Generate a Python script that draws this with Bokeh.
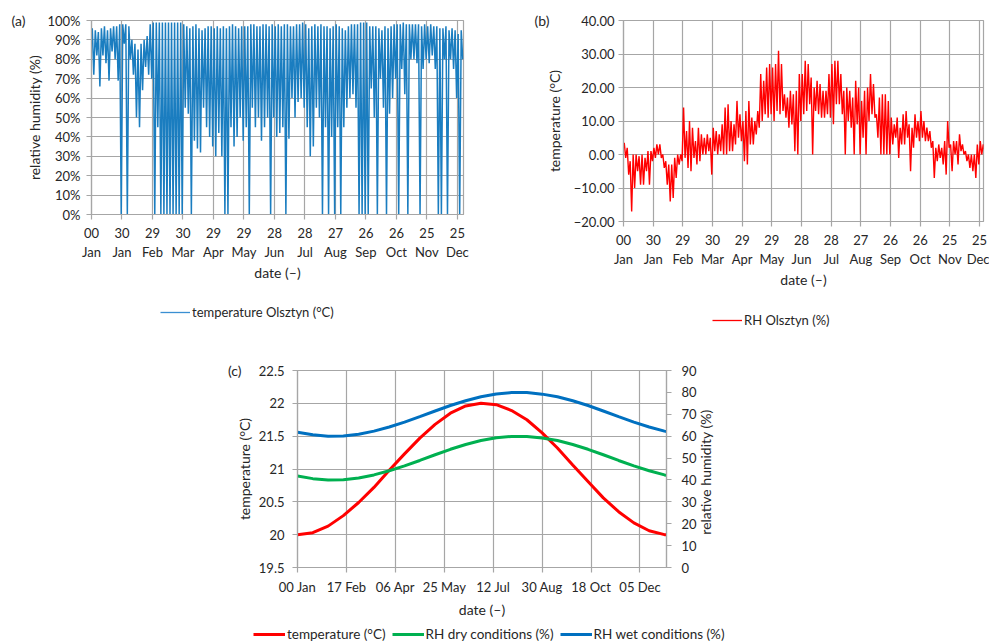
from bokeh.plotting import figure
from bokeh.models import (Range1d, LinearAxis, FixedTicker, Grid, Legend, LegendItem)
from bokeh.layouts import column, row
from bokeh.embed import file_html
from bokeh.resources import INLINE

FONT = "Lato"
TXT = "#262626"
GRID = "#a6a6a6"
BLUE_A = "#1a7dc0"
RED_B = "#ff0000"
RED_C = "#ff0000"
GREEN_C = "#00b050"
BLUE_C = "#0070c0"
NAN = float("nan")

# ---------------- shared date axis of panels (a) and (b) ----------------
tick_days = [0, 30, 60, 90, 120, 150, 180, 210, 240, 270, 300, 330, 360]
tick_day_labels = ["00", "30", "29", "30", "29", "29", "28", "28", "27", "26", "26", "25", "25"]
tick_month_labels = ["Jan", "Jan", "Feb", "Mar", "Apr", "May", "Jun", "Jul", "Aug", "Sep", "Oct", "Nov", "Dec"]

# ---------------- panel (a): relative humidity, 3-day bins (high / low) ----------------
rh_bin_days = list(range(0, 366, 3))
rh_high = [96, 95, 94, 96, 97, 95, 96, 97, 97, 98, 98, 98, 97, 90, 88, 85, 88, 90, 92, 98,
           99, 99, 99, 99, 99, 99, 99, 99, 99, 99, 98, 97, 96, 97, 98, 96, 95, 96, 97, 97,
           96, 97, 96, 97, 96, 97, 98, 97, 96, 97, 97, 97, 98, 98, 97, 97, 98, 98, 97, 98,
           97, 98, 97, 98, 98, 97, 97, 98, 98, 99, 98, 96, 97, 98, 97, 98, 97, 97, 96, 97,
           98, 97, 96, 95, 97, 98, 98, 98, 99, 99, 99, 97, 97, 97, 96, 95, 97, 96, 97, 98,
           98, 98, 99, 98, 98, 98, 98, 98, 97, 98, 97, 98, 97, 97, 96, 96, 97, 95, 96, 95,
           93, 95]
rh_low = [72, 82, 66, 82, 78, 69, 84, 80, 69, 0, 88, 0, 80, 72, 50, 45, 64, 76, 72, 70,
          0, 45, 0, 0, 0, 0, 0, 0, 0, 0, 55, 52, 0, 38, 34, 32, 55, 45, 40, 35,
          30, 42, 30, 0, 0, 45, 35, 40, 50, 38, 45, 0, 55, 45, 50, 38, 45, 50, 0, 50,
          40, 42, 45, 0, 39, 60, 50, 58, 60, 55, 45, 30, 35, 55, 50, 0, 45, 0, 40, 0,
          45, 0, 45, 55, 60, 62, 55, 0, 0, 0, 0, 65, 50, 0, 70, 55, 0, 52, 60, 70,
          0, 75, 62, 0, 80, 80, 78, 0, 75, 80, 78, 82, 75, 0, 0, 80, 0, 80, 75, 60,
          0, 80]
rh_ticks = [0, 10, 20, 30, 40, 50, 60, 70, 80, 90, 100]
rh_tick_labels = ["0%", "10%", "20%", "30%", "40%", "50%", "60%", "70%", "80%", "90%", "100%"]

# ---------------- panel (b): temperature, 3-day bins (high / low) ----------------
t_bin_days = list(range(0, 366, 3))
t_high = [3.5, 2, -2, 0, 0, -0.5, 0, -1, 1, 1, 2, 3, 3, 0, -2, -3, -3, -1, 0, 0,
          14, 7, 10, 8, 4, 8, 6, 5, 6, 5, 8, 7, 6, 9, 14, 15, 10, 9, 16, 12,
          10, 13, 16, 11, 10, 13, 24, 22, 26, 27, 26, 27, 31, 27, 18, 17, 19, 18, 19, 24,
          24, 28, 27, 23, 20, 22, 21, 19, 19, 24, 27, 28, 28, 24, 19, 20, 19, 17, 22, 20,
          16, 19, 20, 24, 21, 12, 17, 18, 18, 16, 11, 9, 11, 8, 12, 13, 9, 8, 12, 10,
          13, 10, 8, 7, 4, 2, 3, 2, 4, 10, 3, 4, 4, 6, 3, 1, 0, 0, 0, 3,
          4, 3]
t_low = [-1, -6, -17, -10, -5, -9, -9, -5, -9, -2, -1, 0, -1, -4, -9, -14, -13, -7, -3, -2,
         -1, -4, -5, -1, -3, -2, 0, 0, 1, -6, 1, 0, 1, 0, 0, 1, 1, 3, 5, 4,
         -2, -3, 3, 3, 6, 8, 10, 12, 11, 12, 10, 13, 12, 13, 11, 8, 9, 1, 0, 10,
         12, 13, 15, 0, 13, 12, 11, 11, 12, 11, 9, 15, 15, 12, 0, 10, 8, 0, 9, 0,
         5, 0, 10, 12, 11, 5, 0, 0, 0, 0, 3, 5, -1, 3, 3, 5, -5, 2, 5, 4,
         5, 4, 4, 2, -7, -2, -1, -3, -6, 2, -5, 0, -3, 1, 0, -2, -4, -5, -7, -3,
         0, 1]
t_ticks = [-20, -10, 0, 10, 20, 30, 40]
t_tick_labels = ["\u221220.00", "\u221210.00", "0.00", "10.00", "20.00", "30.00", "40.00"]

# ---------------- panel (c): design curves ----------------
c_days = [0, 15, 30, 45, 60, 75, 90, 105, 120, 135, 150, 165, 180, 195, 210, 225, 240,
          255, 270, 285, 300, 315, 330, 345, 360, 362]
c_temp = [20.00, 20.03, 20.13, 20.29, 20.49, 20.72, 20.98, 21.23, 21.47, 21.68, 21.85, 21.96,
          22.00, 21.98, 21.89, 21.75, 21.55, 21.32, 21.06, 20.81, 20.56, 20.35, 20.18, 20.06,
          20.00, 20.00]
c_rh_dry = [41.8, 40.6, 40.0, 40.1, 40.9, 42.3, 44.2, 46.4, 48.9, 51.5, 54.0, 56.2, 58.0,
            59.3, 59.9, 59.9, 59.2, 58.0, 56.2, 54.0, 51.5, 48.9, 46.4, 44.2, 42.3, 42.1]
c_rh_wet = [61.8, 60.6, 60.0, 60.1, 60.9, 62.3, 64.2, 66.4, 68.9, 71.5, 74.0, 76.2, 78.0,
            79.3, 79.9, 79.9, 79.2, 78.0, 76.2, 74.0, 71.5, 68.9, 66.4, 64.2, 62.3, 62.1]
c_date_ticks = [0, 48, 96, 144, 192, 240, 288, 336]
c_date_labels = ["00 Jan", "17 Feb", "06 Apr", "25 May", "12 Jul", "30 Aug", "18 Oct", "05 Dec"]
c_temp_ticks = [19.5, 20.0, 20.5, 21.0, 21.5, 22.0, 22.5]
c_temp_labels = ["19.5", "20", "20.5", "21", "21.5", "22", "22.5"]
c_rh_ticks = [0, 10, 20, 30, 40, 50, 60, 70, 80, 90]
c_rh_labels = ["0", "10", "20", "30", "40", "50", "60", "70", "80", "90"]


def zigzag(days, hi, lo):
    xs, ys = [], []
    for d, h, l in zip(days, hi, lo):
        xs += [d + 0.75, d + 2.25]
        ys += [h, l]
    return xs, ys


def style_axis(ax, size="13px", ticks=True, label_size="14px"):
    ax.axis_line_color = GRID
    ax.axis_line_width = 1.2
    ax.major_tick_line_color = GRID if ticks else None
    ax.major_tick_line_width = 1.2
    ax.major_tick_in = 0
    ax.major_tick_out = 5 if ticks else 0
    ax.minor_tick_line_color = None
    ax.major_label_text_font = FONT
    ax.major_label_text_font_size = size
    ax.major_label_text_color = TXT
    ax.axis_label_text_font = FONT
    ax.axis_label_text_font_size = label_size
    ax.axis_label_text_font_style = "normal"
    ax.axis_label_text_color = TXT


def base_fig(**kw):
    p = figure(output_backend="svg", toolbar_location=None, x_axis_type=None, **kw)
    p.outline_line_color = GRID
    p.outline_line_width = 1.2
    p.background_fill_color = "white"
    p.border_fill_color = "white"
    return p


def date_axes(p, standoff1, standoff2, label_standoff):
    ax1 = LinearAxis(ticker=FixedTicker(ticks=tick_days),
                     major_label_overrides=dict(zip(tick_days, tick_day_labels)))
    style_axis(ax1)
    ax1.major_label_standoff = standoff1
    ax2 = LinearAxis(ticker=FixedTicker(ticks=tick_days),
                     major_label_overrides=dict(zip(tick_days, tick_month_labels)),
                     axis_label="date (\u2013)")
    style_axis(ax2, ticks=False)
    ax2.axis_line_color = None
    ax2.major_label_standoff = standoff2
    ax2.axis_label_standoff = label_standoff
    p.add_layout(ax1, "below")
    p.add_layout(ax2, "below")
    p.add_layout(Grid(dimension=0, ticker=FixedTicker(ticks=tick_days),
                      grid_line_color=GRID, grid_line_width=1.2))


def outer_label(p, side, pos, text, standoff, size="14px", orientation="horizontal", range_name=None):
    # a text placed beside the frame, written as the single label of an extra bare axis
    kw = {"y_range_name": range_name} if range_name else {}
    ax = LinearAxis(ticker=FixedTicker(ticks=[pos]), major_label_overrides={pos: text}, **kw)
    style_axis(ax, size=size, ticks=False)
    ax.axis_line_color = None
    ax.major_label_standoff = standoff
    ax.major_label_orientation = orientation
    p.add_layout(ax, side)


def make_legend(items, loc, glyph_width=30, orientation="vertical", size="13px", spacing=0):
    lg = Legend(items=items, location=loc, orientation=orientation)
    lg.border_line_color = None
    lg.background_fill_alpha = 0
    lg.padding = 0
    lg.margin = 0
    lg.spacing = spacing
    lg.glyph_width = glyph_width
    lg.glyph_height = 14
    lg.label_standoff = 2
    lg.label_text_font = FONT
    lg.label_text_font_size = size
    lg.label_text_color = TXT
    lg.label_height = 14
    return lg


def strip(height):
    s = figure(output_backend="svg", toolbar_location=None, x_axis_type=None, y_axis_type=None,
               frame_width=989, frame_height=height, min_border=0,
               x_range=Range1d(0, 989), y_range=Range1d(0, height))
    s.outline_line_color = None
    s.background_fill_color = "white"
    s.border_fill_color = "white"
    return s


# ---------------- panel (a) ----------------
pA = base_fig(frame_width=372, frame_height=194, min_border_left=91, min_border_right=27,
              min_border_top=20, min_border_bottom=86,
              x_range=Range1d(0, 366), y_range=Range1d(0, 100))
style_axis(pA.yaxis[0])
pA.yaxis.ticker = FixedTicker(ticks=rh_ticks)
pA.yaxis.major_label_overrides = dict(zip(rh_ticks, rh_tick_labels))
pA.yaxis.axis_label = "relative humidity (%)"
pA.yaxis.major_label_standoff = 6
pA.yaxis.axis_label_standoff = 1
pA.ygrid.ticker = FixedTicker(ticks=rh_ticks)
pA.ygrid.grid_line_color = GRID
pA.ygrid.grid_line_width = 1.2
date_axes(pA, 8, 3, 1)
outer_label(pA, "left", 100, "(a)", -2)
xa, ya = zigzag(rh_bin_days, rh_high, rh_low)
pA.line(xa, ya, line_color=BLUE_A, line_width=1.5)

# ---------------- panel (b) ----------------
pB = base_fig(frame_width=360, frame_height=201, min_border_left=133, min_border_right=6,
              min_border_top=20, min_border_bottom=79,
              x_range=Range1d(0, 364), y_range=Range1d(-20, 40))
style_axis(pB.yaxis[0])
pB.yaxis.ticker = FixedTicker(ticks=t_ticks)
pB.yaxis.major_label_overrides = dict(zip(t_ticks, t_tick_labels))
pB.yaxis.axis_label = "temperature (\u00b0C)"
pB.yaxis.major_label_standoff = 4
pB.yaxis.axis_label_standoff = 8
pB.ygrid.ticker = FixedTicker(ticks=t_ticks)
pB.ygrid.grid_line_color = GRID
pB.ygrid.grid_line_width = 1.2
date_axes(pB, 8, 3, 1)
outer_label(pB, "left", 40, "(b)", -7)
xb, yb = zigzag(t_bin_days, t_high, t_low)
pB.line(xb, yb, line_color=RED_B, line_width=1.4)

# ---------------- legends of (a) and (b) ----------------
s1 = strip(40)
la = s1.line([NAN], [NAN], line_color="#3a8fd2", line_width=1.3)
lb = s1.line([NAN], [NAN], line_color=RED_B, line_width=1.3)
s1.add_layout(make_legend([LegendItem(label="temperature Olsztyn (\u00b0C)", renderers=[la])], (160, 20)))
s1.add_layout(make_legend([LegendItem(label="RH Olsztyn (%)", renderers=[lb])], (712, 12)))

# ---------------- panel (c) ----------------
pC = base_fig(frame_width=369, frame_height=197, min_border_left=297, min_border_right=323,
              min_border_top=30, min_border_bottom=52,
              x_range=Range1d(0, 362), y_range=Range1d(19.5, 22.5))
pC.extra_y_ranges = {"rh": Range1d(0, 90)}
style_axis(pC.yaxis[0])
pC.yaxis.ticker = FixedTicker(ticks=c_temp_ticks)
pC.yaxis.major_label_overrides = dict(zip(c_temp_ticks, c_temp_labels))
pC.yaxis.axis_label = "temperature (\u00b0C)"
pC.yaxis.major_label_standoff = 8
pC.yaxis.axis_label_standoff = 3
pC.ygrid.ticker = FixedTicker(ticks=c_temp_ticks)
pC.ygrid.grid_line_color = GRID
pC.ygrid.grid_line_width = 1.2
outer_label(pC, "left", 22.5, "(c)", -9)
axR = LinearAxis(y_range_name="rh", ticker=FixedTicker(ticks=c_rh_ticks),
                 major_label_overrides=dict(zip(c_rh_ticks, c_rh_labels)))
style_axis(axR)
axR.major_label_standoff = 10
pC.add_layout(axR, "right")
outer_label(pC, "right", 15, "relative humidity (%)", 6, size="14px",
            orientation=1.5707963, range_name="rh")
axC = LinearAxis(ticker=FixedTicker(ticks=c_date_ticks),
                 major_label_overrides=dict(zip(c_date_ticks, c_date_labels)),
                 axis_label="date (\u2013)")
style_axis(axC)
axC.major_label_standoff = 6
axC.axis_label_standoff = 3
pC.add_layout(axC, "below")
pC.add_layout(Grid(dimension=0, ticker=FixedTicker(ticks=c_date_ticks),
                   grid_line_color=GRID, grid_line_width=1.2))
pC.line(c_days, c_temp, line_color=RED_C, line_width=3)
pC.line(c_days, c_rh_dry, line_color=GREEN_C, line_width=3, y_range_name="rh")
pC.line(c_days, c_rh_wet, line_color=BLUE_C, line_width=3, y_range_name="rh")

# ---------------- legend of (c) ----------------
s2 = strip(25)
lt = s2.line([NAN], [NAN], line_color=RED_C, line_width=3)
ld = s2.line([NAN], [NAN], line_color=GREEN_C, line_width=3)
lw = s2.line([NAN], [NAN], line_color=BLUE_C, line_width=3)
s2.add_layout(make_legend([LegendItem(label="temperature (\u00b0C)", renderers=[lt]),
                           LegendItem(label="RH dry conditions (%)", renderers=[ld]),
                           LegendItem(label="RH wet conditions (%)", renderers=[lw])],
                          (253, 3), glyph_width=32, orientation="horizontal", spacing=6,
                          size="13.5px"))

layout = column(row(pA, pB), s1, pC, s2)
open("out.html", "w").write(file_html(layout, INLINE))
